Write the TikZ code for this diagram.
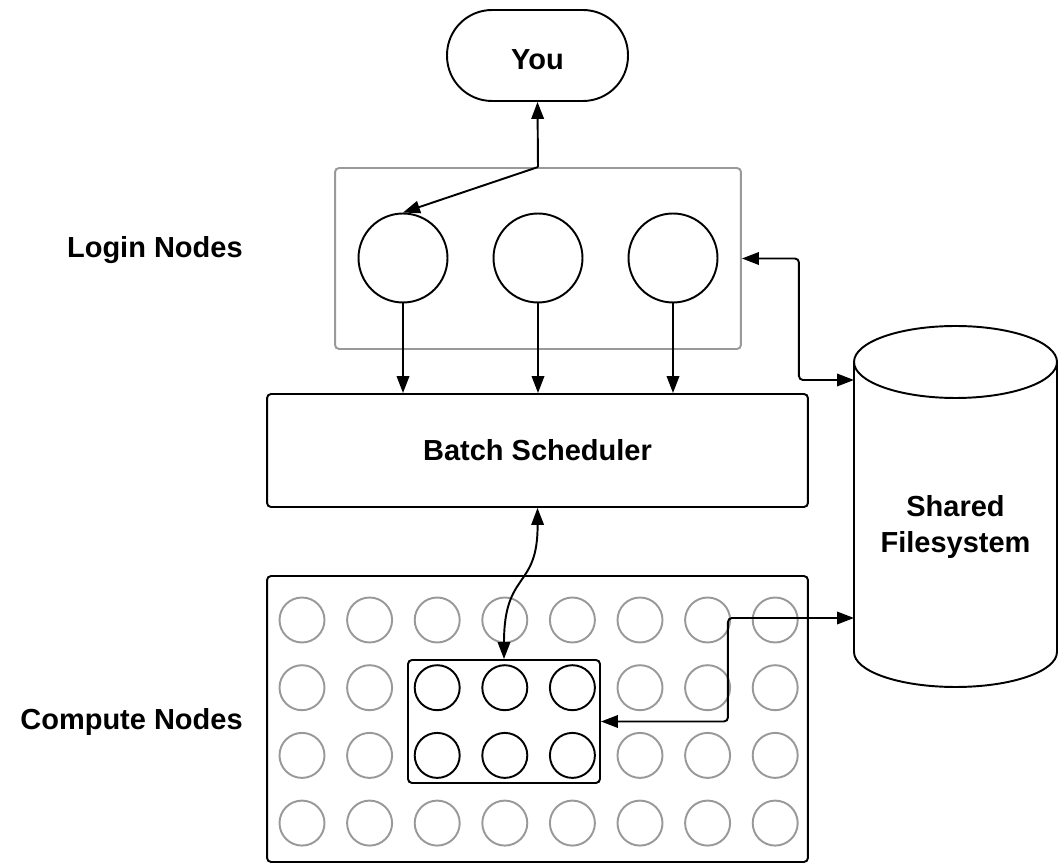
\documentclass[tikz,border=0pt]{standalone}
\usepackage{fontspec}
\setmainfont{Liberation Sans}
\usepackage{tikz}
\usetikzlibrary{arrows.meta,positioning,calc}
\definecolor{nodegray}{RGB}{153,153,153}
\newcommand{\diafont}{\fontsize{16.5}{20.5}\selectfont\bfseries}
\tikzset{
    box/.style={rectangle, draw=black, line width=1.1pt, rounded corners=0.08cm, font=\diafont},
    pill/.style={rectangle, draw=black, line width=1.1pt, rounded corners=0.9cm, minimum width=3.62cm, minimum height=1.82cm, font=\diafont},
    groupbox/.style={rectangle, draw=nodegray, line width=1.1pt, rounded corners=0.08cm},
    lnode/.style={circle, draw=black, line width=1.1pt, minimum size=1.78cm, inner sep=0pt},
    cnode/.style={circle, draw=nodegray, line width=1.1pt, minimum size=0.9cm, inner sep=0pt},
    cnodeB/.style={circle, draw=black, line width=1.1pt, minimum size=0.9cm, inner sep=0pt},
    link/.style={line width=1.1pt, -{Triangle[length=0.34cm, width=0.25cm]}},
    dlink/.style={line width=1.1pt, {Triangle[length=0.34cm, width=0.25cm]}-{Triangle[length=0.34cm, width=0.25cm]}, rounded corners=0.08cm},
    sidelabel/.style={font=\diafont, anchor=east, inner sep=0pt},
}
\begin{document}
\begin{tikzpicture}[x=0.02cm, y=-0.02cm]
    \useasboundingbox (0,0) rectangle (1059,864);

    % You
    \node[pill, text height=15.5pt, text depth=0pt] (you) at (537.5,55.5) {You};

    % Login nodes
    \node[groupbox, minimum width=8.12cm, minimum height=3.62cm] (login) at (538,258.5) {};
    \node[lnode] (ln1) at (403,258) {};
    \node[lnode] (ln2) at (538,258) {};
    \node[lnode] (ln3) at (673,258) {};
    \node[sidelabel] (loginlbl) at (243,250) {Login Nodes};

    % Scheduler
    \node[box, minimum width=10.82cm, minimum height=2.26cm] (sched) at (537.5,450.5) {Batch Scheduler};

    % Compute nodes
    \node[box, minimum width=10.82cm, minimum height=5.72cm] (compute) at (537.5,719) {};
    \node[box, minimum width=3.84cm, minimum height=2.46cm] (jobs) at (504,721.5) {};
    \foreach \i in {0,...,7}
        \foreach \j in {0,...,3} {
            \pgfmathtruncatemacro{\injob}{(\i>1)&&(\i<5)&&(\j>0)&&(\j<3)}
            \ifnum\injob=1
                \node[cnodeB] (cn-\i-\j) at ({302+67.6*\i},{620+67.7*\j}) {};
            \else
                \node[cnode] (cn-\i-\j) at ({302+67.6*\i},{620+67.7*\j}) {};
            \fi
        }
    \node[sidelabel] (computelbl) at (243,722) {Compute Nodes};

    % Shared filesystem
    \draw[line width=1.1pt] (854,362) -- (854,652)
        arc[start angle=180, end angle=360, x radius=2.03cm, y radius=0.7cm] -- (1057,362);
    \draw[line width=1.1pt] (955.5,362) ellipse [x radius=2.03cm, y radius=0.72cm];
    \node[font=\diafont, align=center] (fs) at (955.5,527) {Shared\\Filesystem};
    \coordinate (fstop) at (854,380);
    \coordinate (fsbot) at (854,618);

    % Connections
    \draw[link] (login.north) -- (you.south);
    \draw[link] (login.north) -- (ln1.north);
    \foreach \k in {1,2,3}
        \draw[link] (ln\k.south) -- (ln\k.south |- sched.north);
    \draw[dlink] (login.east) -- ++(57,0) |- (fstop);
    \draw[dlink] (sched.south) .. controls (538,590) and (504,570) .. (jobs.north);
    \draw[dlink] (jobs.east) -- ++(127,0) |- (fsbot);
\end{tikzpicture}
\end{document}
